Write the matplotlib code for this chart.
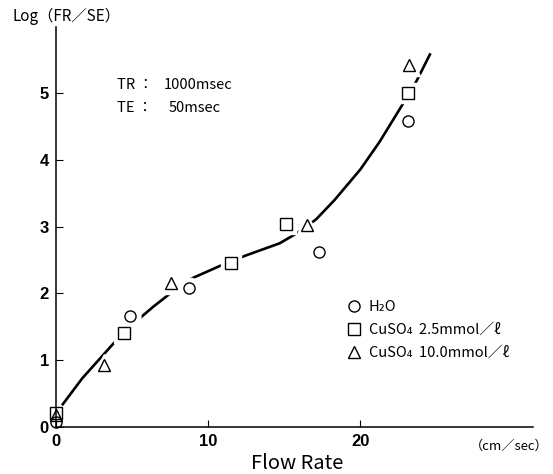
import matplotlib
matplotlib.use("Agg")
import matplotlib.pyplot as plt
from matplotlib.lines import Line2D

plt.rcParams['font.family'] = ['Noto Sans CJK JP', 'DejaVu Sans']

# Data
h2o_x = [0.0, 4.85, 8.74, 17.3, 23.15]
h2o_y = [0.07, 1.66, 2.08, 2.62, 4.58]
cu25_x = [0.0, 4.46, 11.52, 15.08, 23.15]
cu25_y = [0.20, 1.41, 2.46, 3.04, 5.00]
cu10_x = [0.0, 3.17, 7.59, 16.5, 23.17]
cu10_y = [0.17, 0.92, 2.16, 3.02, 5.43]

curve_x = [0.4, 1.75, 3.87, 4.96, 6.4, 7.8, 8.79, 10.86, 12.5, 14.69, 15.89,
           17.09, 18.3, 20.0, 21.25, 22.73, 23.65, 24.6]
curve_y = [0.32, 0.73, 1.27, 1.52, 1.80, 2.05, 2.21, 2.42, 2.57, 2.75, 2.91,
           3.11, 3.40, 3.86, 4.27, 4.82, 5.17, 5.60]

xticks = [0, 10, 20]
yticks = [0, 1, 2, 3, 4, 5]

fig = plt.figure(figsize=(5.53, 4.74), dpi=100)
ax = fig.add_axes([0.101, 0.0998, 0.862, 0.844])
ax.set_xlim(0, 31.3)
ax.set_ylim(0, 6)

ax.plot(curve_x, curve_y, color='black', lw=1.9, zorder=2, solid_capstyle='butt')

series = [
    (h2o_x, h2o_y, 'o', 8),
    (cu25_x, cu25_y, 's', 8),
    (cu10_x, cu10_y, '^', 8.5),
]
# white halos to break the line around markers
for xs, ys, m, ms in series:
    hx = [x for x in xs if x > 0.5]
    hy = [y for x, y in zip(xs, ys) if x > 0.5]
    ax.plot(hx, hy, ls='none', marker=m, ms=ms + 7, mfc='white', mec='white',
            zorder=2.2, clip_on=False)
for xs, ys, m, ms in series:
    ax.plot(xs, ys, ls='none', marker=m, ms=ms, mfc='none', mec='black',
            mew=1.0, zorder=3, clip_on=False)

for s in ['top', 'right']:
    ax.spines[s].set_visible(False)
for s in ['left', 'bottom']:
    ax.spines[s].set_linewidth(1.1)

ax.set_xticks(xticks)
ax.set_yticks(yticks)
ax.tick_params(direction='in', length=5, width=0.8, pad=5)
tickfont = dict(family=['Liberation Sans', 'DejaVu Sans'], size=12, weight='bold')
ax.set_xticklabels([str(t) for t in xticks], **tickfont)
ax.set_yticklabels([str(t) for t in yticks], **tickfont)

ax.text(-0.09, 1.025, 'Log（FR／SE）', transform=ax.transAxes, fontsize=11,
        ha='left', va='center')
# TR / TE annotation
x_lab = (117 - 56) / 473
ax.text(x_lab, (426.7 - 85) / 400, 'TR ：', transform=ax.transAxes,
        fontsize=10.5, ha='left', va='center')
ax.text((163 - 56) / 473, (426.7 - 85) / 400, '1000msec', transform=ax.transAxes,
        fontsize=10.5, ha='left', va='center')
ax.text(x_lab, (426.7 - 108) / 400, 'TE ：', transform=ax.transAxes,
        fontsize=10.5, ha='left', va='center')
ax.text((168 - 56) / 473, (426.7 - 108) / 400, '50msec', transform=ax.transAxes,
        fontsize=10.5, ha='left', va='center')

ax.text((506 - 56) / 473, -0.033, '（cm／sec）', transform=ax.transAxes,
        fontsize=9.5, ha='center', va='top')
fig.text(0.537, 0.023, 'Flow Rate', fontsize=14.5, ha='center', va='center')

handles = [
    Line2D([], [], ls='none', marker='o', ms=8, mfc='none', mec='black', mew=1.0),
    Line2D([], [], ls='none', marker='s', ms=8, mfc='none', mec='black', mew=1.0),
    Line2D([], [], ls='none', marker='^', ms=8.5, mfc='none', mec='black', mew=1.0),
]
labels = ['H₂O', 'CuSO₄  2.5mmol／ℓ', 'CuSO₄  10.0mmol／ℓ']
ax.legend(handles, labels, loc='upper left', bbox_to_anchor=(0.611, 0.3175),
          frameon=False, fontsize=10.5, handlelength=1.0, handletextpad=0.5,
          labelspacing=0.62, borderpad=0, borderaxespad=0)

fig.savefig('out.png', dpi=100)
